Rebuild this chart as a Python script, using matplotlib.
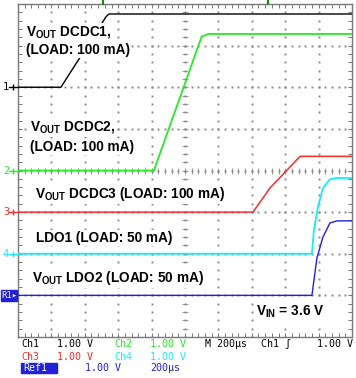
import numpy as np
import matplotlib.pyplot as plt
from matplotlib.patches import Rectangle

# scope settings: 1 V/div, 200 us/div, 10 x 8 divisions
us_per_div = 200
v_per_div = 1.0

# traces (time in us, voltage in V above channel ground)
t_ch1 = [0, 257, 528, 545, 2000]
v_ch1 = [0, 0, 1.70, 1.76, 1.76]
t_ch2 = [0, 814, 1100, 1140, 2000]
v_ch2 = [0, 0, 3.22, 3.28, 3.28]
t_ch3 = [0, 1407, 1509, 1611, 1689, 2000]
v_ch3 = [0, 0, 0.58, 1.01, 1.34, 1.34]
t_ch4 = [0, 1760, 1772, 1796, 1826, 1868, 1910, 2000]
v_ch4 = [0, 0, 0.57, 1.12, 1.58, 1.79, 1.82, 1.82]
t_ref1 = [0, 1760, 1790, 1826, 1868, 1910, 2000]
v_ref1 = [0, 0, 0.90, 1.40, 1.74, 1.79, 1.79]

# ground offsets of each channel (divisions from screen centre)
offsets = {'1': 2, '2': 0, '3': -1, '4': -2, 'R1': -3}

c_black = '#000000'
c_green = '#22ee22'
c_red = '#ff2a2a'
c_cyan = '#11eeff'
c_blue = '#2020dd'
grid_c = '#8a8a8a'

W, H = 356, 378
fig = plt.figure(figsize=(W / 100, H / 100), dpi=100)
ax = fig.add_axes([18 / W, 1 - 337 / H, 334 / W, 333 / H])
ax.set_xlim(0, 10)
ax.set_ylim(-4, 4)

def fx(px):
    return px / W

def fy(py):
    return 1 - py / H

# graticule: dotted lines at each division, dots at 1/5 division
minor_x = np.arange(0, 10.01, 0.2)
minor_y = np.arange(-4, 4.01, 0.2)
for gx in range(1, 10):
    ax.plot(np.full_like(minor_y, gx), minor_y, ls='none', marker='s',
            ms=1.4, mew=0, color=grid_c, zorder=1)
for gy in range(-3, 4):
    ax.plot(minor_x, np.full_like(minor_x, gy), ls='none', marker='s',
            ms=1.4, mew=0, color=grid_c, zorder=1)
# centre line ticks
ax.plot(minor_x, np.zeros_like(minor_x), ls='none', marker='|', ms=4,
        mew=0.6, color='#888888', zorder=1)
ax.plot(np.full_like(minor_y, 5), minor_y, ls='none', marker='_', ms=4,
        mew=0.6, color='#888888', zorder=1)

ax.set_xticks(np.arange(0, 11, 1))
ax.set_xticks(minor_x, minor=True)
ax.set_yticks(np.arange(-4, 5, 1))
ax.set_yticks(minor_y, minor=True)
ax.tick_params(which='both', direction='in', length=3, width=0.7,
               color='#777777', top=True, right=True,
               labelbottom=False, labelleft=False)
for s in ax.spines.values():
    s.set_color('#777777')
    s.set_linewidth(1.0)

def trace(t, v, off, color, lw):
    x = np.array(t) / us_per_div
    y = np.array(v) / v_per_div + off
    ax.plot(x, y, color=color, lw=lw, zorder=3, solid_joinstyle='round')

trace(t_ch1, v_ch1, offsets['1'], c_black, 1.0)
trace(t_ch2, v_ch2, offsets['2'], c_green, 1.3)
trace(t_ch3, v_ch3, offsets['3'], c_red, 1.1)
trace(t_ch4, v_ch4, offsets['4'], c_cyan, 1.3)
trace(t_ref1, v_ref1, offsets['R1'], c_blue, 1.0)

# left ground markers
for name, col in [('1', c_black), ('2', c_green), ('3', c_red), ('4', c_cyan)]:
    gy = offsets[name]
    ax.plot([-0.27, 0], [gy, gy], color=col, lw=1.0, clip_on=False, zorder=4)
    ax.plot([-0.15], [gy], marker='|', ms=5, mew=1.0, color=col,
            clip_on=False, zorder=4)
    ax.text(-0.36, gy, name, color=col, ha='center', va='center',
            fontsize=7.5, family='DejaVu Sans Mono')
ax.add_patch(Rectangle((-0.52, -3.13), 0.5, 0.26, color=c_blue,
                       clip_on=False, zorder=4))
ax.text(-0.49, -3.0, 'R1\u25b8', color='white', ha='left', va='center',
        fontsize=6.5, family='DejaVu Sans Mono', zorder=5)

# trigger markers on top edge
for tx in [103, 268]:
    fig.add_artist(plt.Line2D([fx(tx), fx(tx)], [fy(0), fy(4)],
                              color='#118811', lw=1.5))

# labels
plt.rcParams['mathtext.fontset'] = 'custom'
plt.rcParams['mathtext.bf'] = 'Liberation Sans:bold'
plt.rcParams['mathtext.rm'] = 'Liberation Sans'
lab = dict(fontsize=9.8, fontweight='bold', family='Liberation Sans',
           va='baseline', ha='left', color='black', zorder=6,
           bbox=dict(facecolor='white', edgecolor='none', pad=1.0))
V = r'V$_{\mathbf{OUT}}$'
fig.text(fx(26), fy(36), V + ' DCDC1,', **lab)
fig.text(fx(26), fy(54), '(LOAD: 100 mA)', **lab)
fig.text(fx(30), fy(131), V + ' DCDC2,', **lab)
fig.text(fx(30), fy(151), '(LOAD: 100 mA)', **lab)
fig.text(fx(35), fy(198), V + ' DCDC3 (LOAD: 100 mA)', **lab)
fig.text(fx(36), fy(242), 'LDO1 (LOAD: 50 mA)', **lab)
fig.text(fx(32), fy(282), V + ' LDO2 (LOAD: 50 mA)', **lab)
fig.text(fx(256), fy(316), r'V$_{\mathbf{IN}}$ = 3.6 V', **lab)

# status lines
st = dict(fontsize=7.2, family='DejaVu Sans Mono', va='baseline', ha='left')
fig.text(fx(21), fy(347), 'Ch1', color=c_black, **st)
fig.text(fx(57), fy(347), '1.00 V', color=c_black, **st)
fig.text(fx(114), fy(347), 'Ch2', color=c_green, **st)
fig.text(fx(150), fy(347), '1.00 V', color=c_green, **st)
fig.text(fx(205), fy(347), 'M 200\u00b5s', color=c_black, **st)
fig.text(fx(261), fy(347), 'Ch1 \u0283', color=c_black, **st)
fig.text(fx(317), fy(347), '1.00 V', color=c_black, **st)
fig.text(fx(21), fy(360), 'Ch3', color=c_red, **st)
fig.text(fx(57), fy(360), '1.00 V', color=c_red, **st)
fig.text(fx(114), fy(360), 'Ch4', color=c_cyan, **st)
fig.text(fx(150), fy(360), '1.00 V', color=c_cyan, **st)
fig.add_artist(Rectangle((fx(21), fy(373)), 36 / W, 10 / H,
                         color=c_blue, transform=fig.transFigure))
fig.text(fx(23), fy(371), 'Ref1', color='white', **st)
fig.text(fx(85), fy(371), '1.00 V', color=c_blue, **st)
fig.text(fx(150), fy(371), '200\u00b5s', color=c_blue, **st)

fig.savefig('out.png', dpi=100)
